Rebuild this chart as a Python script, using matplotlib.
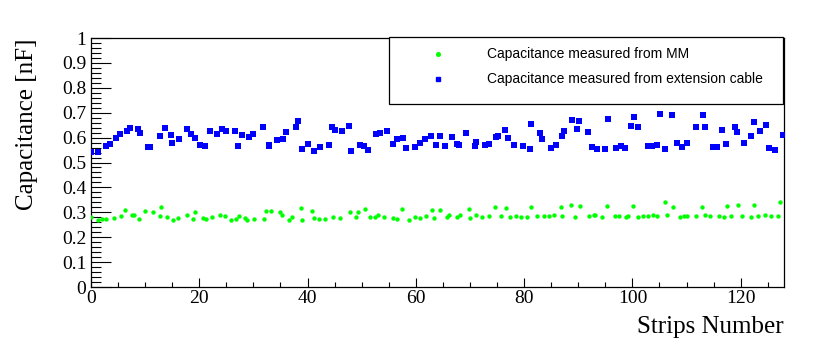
import matplotlib
matplotlib.use("Agg")
import matplotlib.pyplot as plt
from matplotlib.ticker import MultipleLocator, FuncFormatter

# ---- data ----
mm_x = [0, 1.35, 2.03, 2.83, 4.18, 5.6, 6.22, 7.63, 7.88, 8.81, 10.05, 11.52, 12.7, 12.94,
        14.11, 15.1, 16.09, 17.69, 18.86, 19.17, 20.71, 21.33, 22.38, 23.8, 24.73,
        25.82, 26.74, 27.36, 28.47, 28.9, 30.13, 31.92, 32.41, 33.33, 34.87, 35.37, 36.6,
        37.09, 38.7, 39.0, 40.79, 41.1, 42.14, 43.13, 44.79, 45.96, 47.87, 48.92, 49.29, 50.52,
        51.51, 52.43, 53.05, 54.04, 55.7, 56.5, 57.36, 58.78, 59.83, 60.75, 61.86, 62.91,
        63.4, 64.51, 65.74, 66.12, 67.6, 68.09, 69.75, 70.0, 71.1, 72.2, 73.57, 74.68, 75.73,
        76.71, 77.39, 78.5, 79.42, 80.53, 81.33, 82.44, 83.67, 84.66, 85.58, 86.81, 87.06,
        88.6, 89.4, 90.39, 91.93, 92.85, 93.1, 94.33, 95.26, 96.74, 97.54, 98.76, 99.2, 100.18,
        101.1, 101.97, 102.9, 103.76, 104.56, 106.04, 106.35, 107.52, 108.75, 109.55, 110.17,
        111.83, 112.87, 113.37, 114.36, 116.08, 117.0, 117.5, 118.24, 119.47, 120.33, 121.87,
        122.37, 123.29, 124.4, 125.57, 126.86, 127.23]
mm_c = [0.282, 0.270, 0.274, 0.274, 0.277, 0.284, 0.308, 0.291, 0.288, 0.273, 0.305, 0.301,
        0.284, 0.321, 0.280, 0.269, 0.276, 0.288, 0.274, 0.301, 0.277, 0.274, 0.281, 0.288,
        0.287,
        0.270, 0.274, 0.285, 0.277, 0.270, 0.274, 0.272, 0.307, 0.305, 0.303, 0.288, 0.270,
        0.282, 0.318, 0.270, 0.307, 0.277, 0.274, 0.273, 0.280, 0.277, 0.301, 0.280, 0.302,
        0.312,
        0.281, 0.281, 0.289, 0.282, 0.278, 0.274, 0.312, 0.270, 0.282, 0.278, 0.285, 0.310,
        0.276, 0.309, 0.280, 0.289, 0.282, 0.288, 0.313, 0.278, 0.288, 0.281, 0.285, 0.323,
        0.286,
        0.316, 0.281, 0.286, 0.280, 0.281, 0.321, 0.284, 0.285, 0.284, 0.289, 0.321, 0.287,
        0.329, 0.281, 0.324, 0.284, 0.288, 0.289, 0.280, 0.324, 0.287, 0.287, 0.281, 0.285,
        0.324, 0.281,
        0.285, 0.285, 0.288, 0.285, 0.340, 0.288, 0.321, 0.281, 0.284, 0.285, 0.284, 0.320,
        0.289, 0.285, 0.285, 0.282, 0.325, 0.285, 0.330, 0.284, 0.282, 0.329, 0.284, 0.289,
        0.287, 0.285, 0.343]

ext_x = [0, 1.35, 2.83, 3.46, 4.57, 5.31, 6.65, 7.27, 8.75, 9.12, 10.48, 10.96, 12.75, 13.73,
         14.79, 15.03, 16.27, 17.74, 18.54, 19.28, 20.09, 21.0, 21.99, 23.35, 24.21, 25.01,
         26.62, 27.11, 27.97, 29.15, 29.94, 31.73, 32.8, 32.9, 34.32, 35.43, 36.04, 37.83,
         38.2, 38.94, 39.99, 41.16, 42.21, 43.93, 44.49, 45.16, 46.33, 47.69, 48.06, 49.66,
         50.4, 51.14, 52.68, 53.3, 54.59, 55.82, 56.44, 57.61, 58.23, 59.76, 60.81, 61.68,
         62.79, 63.77, 64.51, 65.37, 66.6, 67.65, 68.0, 69.2, 70.85, 71.17, 72.83, 73.6,
         74.74, 75.17, 76.4, 77.02, 78.06, 79.85, 81.0, 81.33, 82.93, 83.36, 84.97, 85.89,
         86.94, 87.28, 88.78, 89.77, 90.2, 91.74, 92.6, 93.5, 95.0, 95.44, 96.98, 97.9,
         98.64, 99.69, 100.37, 101.08, 102.96, 103.55, 104.5, 105.18, 106.1, 107.37, 108.26,
         109.24, 110.17, 111.7, 113.0, 113.37, 114.85, 115.71, 116.51, 117.32, 118.9, 119.4,
         120.64, 121.87, 122.5, 123.6, 124.71, 125.32, 126.43, 127.79]
ext_c = [0.541, 0.541, 0.565, 0.573, 0.597, 0.616, 0.625, 0.637, 0.635, 0.620, 0.563, 0.562,
         0.606, 0.640, 0.610, 0.580, 0.594, 0.635, 0.613, 0.597, 0.569, 0.566, 0.626, 0.614,
         0.633, 0.626,
         0.625, 0.565, 0.610, 0.602, 0.616, 0.641, 0.572, 0.565, 0.592, 0.593, 0.624, 0.641,
         0.667, 0.556, 0.573, 0.546, 0.561, 0.572, 0.641, 0.631, 0.628, 0.645, 0.547, 0.570,
         0.565, 0.551,
         0.616, 0.620, 0.627, 0.573, 0.596, 0.597, 0.558, 0.562, 0.577, 0.596, 0.608, 0.569,
         0.608, 0.566, 0.601, 0.573, 0.572, 0.617, 0.565, 0.581, 0.570, 0.574, 0.602, 0.608,
         0.629, 0.598, 0.569, 0.566, 0.556, 0.656, 0.618, 0.593, 0.558, 0.569, 0.606, 0.627,
         0.672, 0.633, 0.665, 0.623, 0.562, 0.556, 0.553, 0.676, 0.558, 0.568, 0.560, 0.648,
         0.681, 0.643,
         0.568, 0.568, 0.570, 0.694, 0.553, 0.689, 0.580, 0.564, 0.578, 0.644, 0.691, 0.643,
         0.561, 0.564, 0.632, 0.573, 0.643, 0.622, 0.577, 0.606, 0.663, 0.628, 0.651, 0.557,
         0.549, 0.609]

x_major = [0, 20, 40, 60, 80, 100, 120]
label_mm = "Capacitance measured from MM"
label_ext = "Capacitance measured from extension cable"

W, H = 822, 344
fig = plt.figure(figsize=(W / 100, H / 100), dpi=100)
L, R, T, B = 91, 784, 38, 287
ax = fig.add_axes([L / W, 1 - B / H, (R - L) / W, (B - T) / H])

serif = ["Liberation Serif", "DejaVu Serif"]
sans = ["Liberation Sans", "DejaVu Sans"]

ax.scatter(mm_x, mm_c, s=10, marker="o", color="#00ff00", linewidths=0, zorder=3)
ax.scatter(ext_x, ext_c, s=14, marker="s", color="#0000ff", linewidths=0, zorder=3)

ax.set_xlim(0, 128)
ax.set_ylim(0, 1)
ax.set_xticks(x_major)
ax.xaxis.set_minor_locator(MultipleLocator(5))
ax.yaxis.set_major_locator(MultipleLocator(0.1))
ax.yaxis.set_minor_locator(MultipleLocator(0.02))
ax.yaxis.set_major_formatter(FuncFormatter(lambda v, p: "%g" % round(v, 2)))

ax.tick_params(axis="y", which="major", direction="in", length=14.5, width=0.8, pad=3.5)
ax.tick_params(axis="y", which="minor", direction="in", length=7.2, width=0.8)
ax.tick_params(axis="x", which="major", direction="in", length=6.5, width=0.8, pad=2.5)
ax.tick_params(axis="x", which="minor", direction="in", length=3.3, width=0.8)
ax.tick_params(top=False, right=False, which="both")
for lab in ax.get_xticklabels() + ax.get_yticklabels():
    lab.set_family(serif)
    lab.set_fontsize(14)
for sp in ax.spines.values():
    sp.set_linewidth(0.9)

fig.text(27 / W, 1 - 38 / H, "Capacitance [nF]", rotation=90, ha="center", va="top",
         family=serif, fontsize=18)
fig.text(784 / W, 1 - 327 / H, "Strips Number", ha="right", va="center",
         family=serif, fontsize=18)

# legend box
lx0, lx1, ly0, ly1 = 389, 783, 37, 104
fig.patches.append(plt.Rectangle((lx0 / W, 1 - ly1 / H), (lx1 - lx0) / W, (ly1 - ly0) / H,
                                 transform=fig.transFigure, facecolor="white",
                                 edgecolor="black", linewidth=0.9, zorder=5))
fig.lines.append(plt.Line2D([438 / W], [1 - 54 / H], marker="o", markersize=2.6,
                            color="#00ff00", linestyle="none", transform=fig.transFigure,
                            zorder=6))
fig.lines.append(plt.Line2D([438 / W], [1 - 79 / H], marker="s", markersize=3.0,
                            color="#0000ff", linestyle="none", transform=fig.transFigure,
                            zorder=6))
fig.text(487 / W, 1 - 54 / H, label_mm, ha="left", va="center", family=sans, fontsize=10,
         zorder=6)
fig.text(487 / W, 1 - 79 / H, label_ext, ha="left", va="center", family=sans, fontsize=10,
         zorder=6)

fig.savefig("out.png", dpi=100)
